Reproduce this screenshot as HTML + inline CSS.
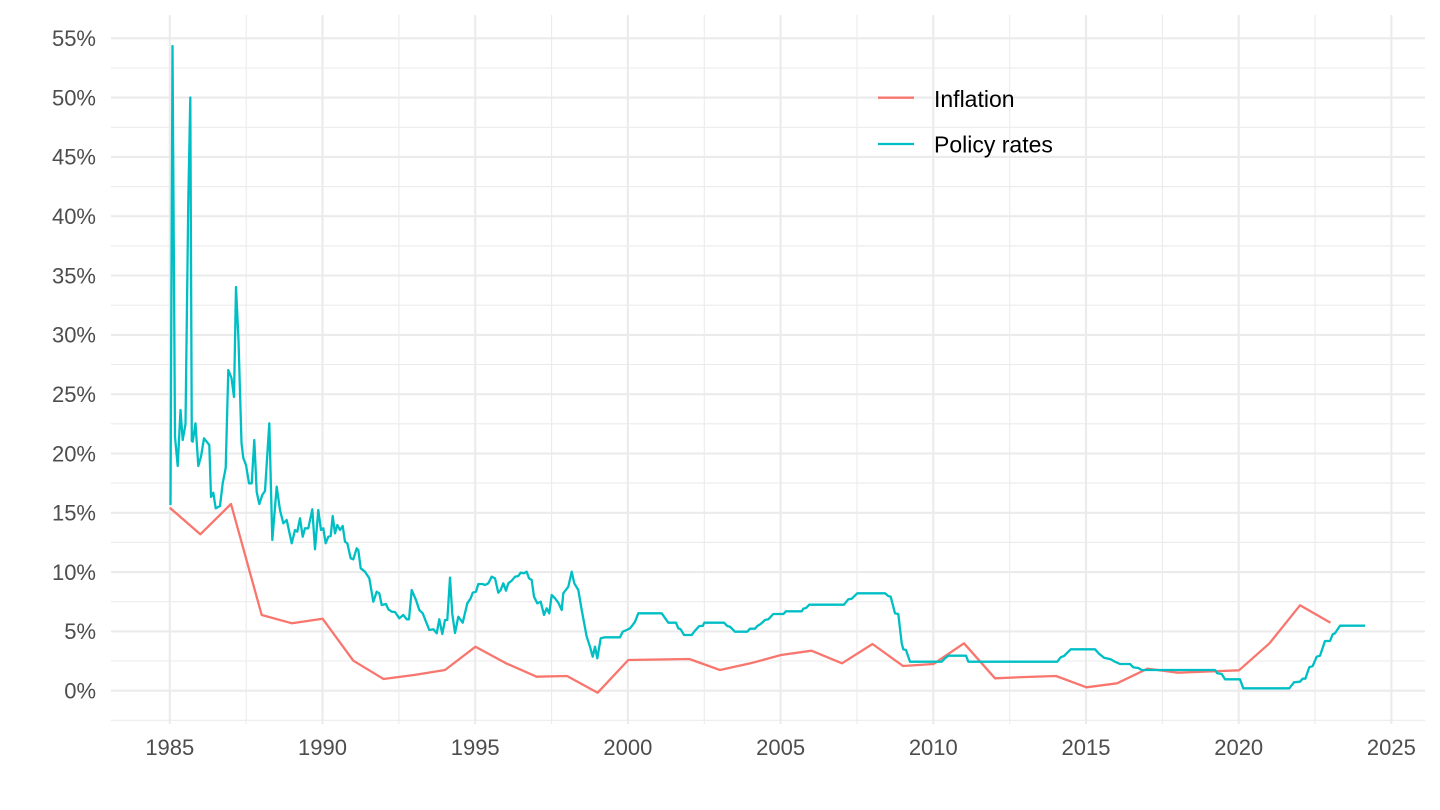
<!DOCTYPE html>
<html>
<head>
<meta charset="utf-8">
<style>
  html,body{margin:0;padding:0;background:#fff;}
  svg{display:block;}
  text{font-family:"Liberation Sans",Arial,sans-serif;}
</style>
</head>
<body>
<svg width="1440" height="810" viewBox="0 0 1440 810" xmlns="http://www.w3.org/2000/svg">
<rect width="1440" height="810" fill="#fff"/>
<!-- minor gridlines -->
<g stroke="#ebebeb" stroke-width="1.1" fill="none">
  <line x1="111" x2="1425" y1="720.3" y2="720.3"/>
  <line x1="111" x2="1425" y1="661.0" y2="661.0"/>
  <line x1="111" x2="1425" y1="601.7" y2="601.7"/>
  <line x1="111" x2="1425" y1="542.4" y2="542.4"/>
  <line x1="111" x2="1425" y1="483.1" y2="483.1"/>
  <line x1="111" x2="1425" y1="423.8" y2="423.8"/>
  <line x1="111" x2="1425" y1="364.5" y2="364.5"/>
  <line x1="111" x2="1425" y1="305.2" y2="305.2"/>
  <line x1="111" x2="1425" y1="245.9" y2="245.9"/>
  <line x1="111" x2="1425" y1="186.6" y2="186.6"/>
  <line x1="111" x2="1425" y1="127.3" y2="127.3"/>
  <line x1="111" x2="1425" y1="68.0" y2="68.0"/>
  <line y1="15" y2="724" x1="246.2" x2="246.2"/>
  <line y1="15" y2="724" x1="398.9" x2="398.9"/>
  <line y1="15" y2="724" x1="551.6" x2="551.6"/>
  <line y1="15" y2="724" x1="704.3" x2="704.3"/>
  <line y1="15" y2="724" x1="857.0" x2="857.0"/>
  <line y1="15" y2="724" x1="1009.7" x2="1009.7"/>
  <line y1="15" y2="724" x1="1162.4" x2="1162.4"/>
  <line y1="15" y2="724" x1="1315.1" x2="1315.1"/>
</g>
<!-- major gridlines -->
<g stroke="#ebebeb" stroke-width="2.1" fill="none">
  <line x1="111" x2="1425" y1="690.7" y2="690.7"/>
  <line x1="111" x2="1425" y1="631.4" y2="631.4"/>
  <line x1="111" x2="1425" y1="572.1" y2="572.1"/>
  <line x1="111" x2="1425" y1="512.8" y2="512.8"/>
  <line x1="111" x2="1425" y1="453.5" y2="453.5"/>
  <line x1="111" x2="1425" y1="394.2" y2="394.2"/>
  <line x1="111" x2="1425" y1="334.9" y2="334.9"/>
  <line x1="111" x2="1425" y1="275.5" y2="275.5"/>
  <line x1="111" x2="1425" y1="216.2" y2="216.2"/>
  <line x1="111" x2="1425" y1="156.9" y2="156.9"/>
  <line x1="111" x2="1425" y1="97.6" y2="97.6"/>
  <line x1="111" x2="1425" y1="38.3" y2="38.3"/>
  <line y1="15" y2="724" x1="169.8" x2="169.8"/>
  <line y1="15" y2="724" x1="322.5" x2="322.5"/>
  <line y1="15" y2="724" x1="475.2" x2="475.2"/>
  <line y1="15" y2="724" x1="627.9" x2="627.9"/>
  <line y1="15" y2="724" x1="780.6" x2="780.6"/>
  <line y1="15" y2="724" x1="933.3" x2="933.3"/>
  <line y1="15" y2="724" x1="1086.0" x2="1086.0"/>
  <line y1="15" y2="724" x1="1238.7" x2="1238.7"/>
  <line y1="15" y2="724" x1="1391.4" x2="1391.4"/>
</g>
<!-- y labels -->
<g fill="#4d4d4d" font-size="22" text-anchor="end">
  <text x="96" y="698.5">0%</text>
  <text x="96" y="639.2">5%</text>
  <text x="96" y="579.9">10%</text>
  <text x="96" y="520.6">15%</text>
  <text x="96" y="461.3">20%</text>
  <text x="96" y="402.0">25%</text>
  <text x="96" y="342.7">30%</text>
  <text x="96" y="283.3">35%</text>
  <text x="96" y="224.0">40%</text>
  <text x="96" y="164.7">45%</text>
  <text x="96" y="105.4">50%</text>
  <text x="96" y="46.1">55%</text>
</g>
<!-- x labels -->
<g fill="#4d4d4d" font-size="22" text-anchor="middle">
  <text x="169.8" y="755">1985</text>
  <text x="322.5" y="755">1990</text>
  <text x="475.2" y="755">1995</text>
  <text x="627.9" y="755">2000</text>
  <text x="780.6" y="755">2005</text>
  <text x="933.3" y="755">2010</text>
  <text x="1086.0" y="755">2015</text>
  <text x="1238.7" y="755">2020</text>
  <text x="1391.4" y="755">2025</text>
</g>
<!-- Inflation -->
<polyline fill="none" stroke="#F8766D" stroke-width="2.3" stroke-linejoin="round" stroke-linecap="butt" points="
169.8,507.7 200.3,534.3 231,504 261.7,615 292,623.3 322.6,618.7 353.3,660.7 383.5,679 414,675 445,670 475.5,646.7 506,663.3 536.6,676.7 567,676 597.7,692.7 628.3,660 659,659.5 689.3,659 720,670 750.4,663.3 781,655 811.5,650.7 842,663.3 872.5,644 903,666 933.5,664 964,643.3 995,678.3 1025.5,677 1056,676 1086.5,687.3 1117,683.3 1147.5,668.7 1178,672.7 1208.5,671.5 1239,670.3 1269.5,643.3 1300,605.3 1330.5,622.7"/>
<!-- Policy rates -->
<polyline fill="none" stroke="#00BFC4" stroke-width="2.3" stroke-linejoin="round" stroke-linecap="butt" points="
170.5,505 172.5,46 175,437 177.7,466 180.5,410 182.7,440 185.5,424 188.3,200 190.3,97.5 191.8,441 192.7,441.7 195.5,423.3 198.3,466 201,456.7 204,438.3 206.7,441.7 209.3,445 211,497 213.3,492.7 215.7,508.3 220,506 222.7,483.3 225.7,468 228.3,370 231.5,378 234,397 236,287 238.5,340 241.5,443 243.3,458 246,465 249,483.3 251.7,483.3 254.3,440 256.7,492 259.3,504 262.3,495 265,491 269.3,423.3 272.3,540 276.7,486.7 280,510 283.3,523.3 286.7,520 291.7,543.3 295,530 297.3,531.7 300,518.3 302.7,536.7 305,528.3 308.3,528.3 312.3,509.3 315,549.3 318.3,510 321,530 323.3,528.3 325.7,543.3 328.3,536.7 330.7,536 332.7,516 335,533.3 337.3,525 340,530 342.7,526 345,541.7 347.3,543.3 350.7,558.3 353.3,559.3 356.7,548.3 358.3,550 360.7,568.3 365,571.7 369.3,578.3 373.3,601.7 376.7,591.7 379.3,593.3 381.7,605 386,604 388.3,609.3 391.7,611.7 395,612 399.3,618.3 403.3,615 406.7,619.3 409,619.3 411.7,590 416,600 419.3,610 422.7,613.3 426,621.7 429.3,630 433.3,629.3 436.7,633.3 439.3,619.3 442.3,634 445,620 447.3,620 450,577.7 452.3,614 455,633 458.3,616.7 462.7,622.7 467.3,603.3 470.7,598.3 472.7,592.7 476,591.7 478.3,584 482.3,584 485,585 488.3,583.3 491.7,576.7 495,578.3 498.3,592.7 500.7,590 503.3,583.3 506,590.7 508.3,583.3 511.7,580.7 515,576.7 518.3,576 520.7,572.7 524,573.3 526.7,571.7 529,578.3 531.7,580 534,596.7 537.3,603.3 540.7,601.7 544,615 546.7,608.3 549.3,613.3 551.7,595 555,598.3 558.3,602.7 561.7,610 563.3,593.3 568.3,586.7 571.7,571.7 574.3,583.3 578.3,590 581.7,610 586.7,636.7 590,646.7 592.7,656.7 595,646.7 597.3,658.3 600.7,638.3 605,637.3 620,637.3 622.7,631.7 626.7,630 630,628.3 632.7,625 635,621.7 638.3,613.3 661.7,613.3 668.3,622.7 676,622.7 678.3,628.3 680.7,629.3 684,635 691.7,635 695,630.7 699.3,626 702.7,626 704.3,622.7 724,622.7 727.3,626 730,626.7 735,631.7 747.3,631.7 750,628.7 755,628.7 757.3,626 760.7,624 765,620 768.3,619.3 773.3,614 783.3,614 786,611.3 801.7,611.3 803.3,608.7 806,608 809.3,604.7 844,604.7 848.3,599.3 851.7,598.7 857.3,593.3 885,593.3 888.3,596 890.7,596.7 895,613.3 898.3,614 901.7,643.3 903.3,649.3 906,650 910,661.7 941.7,661.7 945,658.3 948.3,655.7 966,655.7 968.3,661.7 1057.3,661.7 1060.7,657.3 1064,656 1070.7,649.3 1095,649.3 1099.3,654 1104,657.7 1110.7,659.3 1115,661.7 1120,664 1130,664 1133.3,667.3 1138.3,668 1141.7,670 1215,670 1217.3,673.3 1221.7,674 1225,679.3 1240,679.3 1243.3,688.3 1289.3,688.3 1294,682.3 1300,681.7 1302.7,678.7 1305.3,678.7 1309.3,667.3 1312.7,666 1316.7,656.7 1320,655.7 1325,641 1330,641 1332.7,634.3 1335,633.3 1340,625.7 1365,625.7"/>
<!-- legend -->
<line x1="878" x2="914" y1="97.7" y2="97.7" stroke="#F8766D" stroke-width="2.3"/>
<line x1="878" x2="914" y1="144" y2="144" stroke="#00BFC4" stroke-width="2.3"/>
<g fill="#000" font-size="23">
  <text x="934" y="107">Inflation</text>
  <text x="934" y="152.5">Policy rates</text>
</g>
</svg>
</body>
</html>
